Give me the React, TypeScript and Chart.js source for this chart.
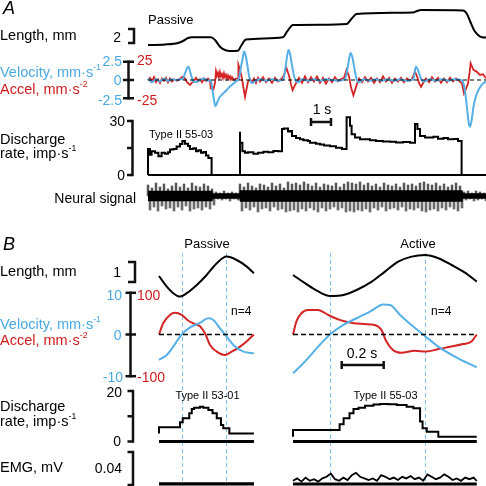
import React, { useEffect, useRef } from 'react';
import { Chart, registerables } from 'chart.js';

Chart.register(...registerables);

// ---------------- DATA ----------------
// Panel A (time in s, passive stretch sequence)
const timeEndA = 16.9;
const lengthA: [number, number][] = [
  [0, 0], [0.85, 0.07], [1.5, 0.29], [1.75, 0.57], [2.0, 1.0], [2.2, 1.1], [3.15, 1.1], [3.35, 0.71],
  [3.6, -0.24], [3.85, -0.71], [4.1, -0.86], [4.5, -0.81], [4.68, 0], [4.9, 0.79], [6.75, 1.1], [6.95, 1.9],
  [7.25, 2.86], [8.6, 2.9], [9.93, 3.0], [10.2, 3.81], [10.43, 4.43], [13.25, 4.64], [13.45, 4.86],
  [13.65, 5.0], [15.75, 4.93], [15.95, 4.43], [16.1, 3.43], [16.3, 2.14], [16.5, 1.43], [16.7, 1.1], [16.9, 1.07],
];
const velocityA: [number, number][] = [
  [0, 0.2], [0.2, -0.3], [0.4, 0.1], [0.6, -0.2], [0.8, 0.2], [1.0, -0.1], [1.2, 0.1], [1.4, 0.0], [1.6, 0.1],
  [1.72, 0.1], [1.85, 0.9], [1.95, 1.6], [2.02, 1.8], [2.1, 1.2], [2.2, 0.3], [2.3, -0.3], [2.45, -0.2], [2.6, 0.0],
  [2.8, 0.2], [3.0, -0.1], [3.13, 0.0], [3.23, -1.5], [3.33, -3.2], [3.38, -3.6], [3.47, -3.0], [3.6, -2.3],
  [3.85, -1.6], [4.1, -0.9], [4.35, -0.3], [4.5, 0.0], [4.55, 0.2], [4.65, 1.8], [4.75, 3.2], [4.8, 3.9], [4.88, 3.4],
  [4.97, 2.0], [5.05, 0.6], [5.1, 0.0], [5.2, -0.4], [5.35, -0.2], [5.6, 0.1], [5.9, -0.1], [6.2, 0.1], [6.5, -0.1],
  [6.77, 0.1], [6.87, 1.6], [6.95, 3.2], [7.02, 4.1], [7.1, 3.6], [7.2, 2.0], [7.3, 0.6], [7.38, -0.1], [7.5, -0.3],
  [7.7, 0.1], [8.0, -0.1], [8.3, 0.1], [8.6, -0.1], [8.9, 0.1], [9.2, 0.0], [9.5, -0.1], [9.85, 0.1], [9.95, 1.2],
  [10.05, 2.8], [10.13, 3.7], [10.22, 3.1], [10.32, 1.6], [10.43, 0.1], [10.55, -0.3], [10.8, 0.1], [11.1, -0.1],
  [11.4, 0.1], [11.7, -0.1], [12.0, 0.1], [12.3, -0.1], [12.6, 0.1], [12.9, -0.1], [13.2, 0.0], [13.27, 0.1],
  [13.34, 1.2], [13.4, 1.8], [13.48, 1.5], [13.58, 0.7], [13.68, 0.0], [13.8, -0.2], [14.1, 0.1], [14.4, -0.1],
  [14.7, 0.1], [15.0, -0.1], [15.3, 0.1], [15.65, 0.0], [15.75, -0.3], [15.85, -1.5], [15.95, -3.8], [16.03, -5.8],
  [16.1, -6.4], [16.18, -5.5], [16.28, -3.6], [16.4, -2.2], [16.52, -1.4], [16.7, -0.6], [16.9, -0.2],
];
const accelA: [number, number][] = [
  [0, 0], [0.1, 3], [0.2, -2], [0.3, 4], [0.4, -3], [0.5, 1], [0.6, -4], [0.7, 2], [0.8, -1], [0.9, 3], [1.0, -3],
  [1.1, 2], [1.2, -2], [1.3, 1], [1.45, -1], [1.6, 2], [1.75, 4.5], [1.85, 2], [1.95, -3], [2.1, -6.8], [2.2, -3.7],
  [2.3, -1], [2.4, 3], [2.5, -2], [2.6, 1], [2.7, -3], [2.8, 2], [2.9, -1], [3.0, 2], [3.1, -1], [3.14, -11.5],
  [3.27, -13], [3.35, -4], [3.4, 12], [3.45, 6], [3.5, 10], [3.55, 4], [3.6, 11], [3.65, 5], [3.7, 8], [3.75, 3],
  [3.8, 9], [3.85, 4], [3.9, 7], [3.95, 2], [4.0, 6], [4.05, 2], [4.1, 5], [4.15, 1], [4.2, 4], [4.3, 0], [4.4, 2],
  [4.5, 2], [4.52, 20.8], [4.6, 14], [4.7, 2], [4.78, -12], [4.85, -23], [4.93, -12], [5.0, -2.3], [5.1, 1],
  [5.2, -3], [5.3, 2], [5.4, -4], [5.5, 3], [5.6, -2], [5.75, 4], [5.9, -3], [6.05, 2], [6.2, -4], [6.35, 3],
  [6.5, -2], [6.65, 1], [6.75, 4], [6.93, 16], [7.05, 6], [7.15, -6], [7.23, -13.9], [7.35, -7], [7.45, -2],
  [7.55, 3], [7.7, -4], [7.85, 5], [8.0, -3], [8.15, 4], [8.3, -2], [8.45, 5], [8.6, -4], [8.75, 3], [8.9, -5],
  [9.05, 2], [9.2, -3], [9.35, 4], [9.5, -2], [9.65, 1], [9.8, 3], [9.93, 13.9], [10.05, 5], [10.15, -10],
  [10.27, -20.8], [10.43, -7], [10.55, 2], [10.7, -3], [10.85, 4], [11.0, -2], [11.15, 3], [11.3, -4], [11.45, 2],
  [11.6, -3], [11.75, 5], [11.9, -2], [12.05, 3], [12.2, -4], [12.35, 2], [12.5, -2], [12.65, 3], [12.8, -3],
  [12.95, 2], [13.1, -1], [13.2, 1], [13.35, 11.5], [13.45, 5], [13.55, -4], [13.65, -9.3], [13.78, -3], [13.9, 2],
  [14.05, -3], [14.2, 4], [14.35, -2], [14.5, 3], [14.65, -4], [14.8, 2], [14.95, -3], [15.1, 3], [15.25, -2],
  [15.4, 2], [15.55, -1], [15.7, -5], [15.8, -18.5], [15.9, -12], [16.0, -5], [16.08, 10], [16.13, 23],
  [16.27, 13.9], [16.43, 11.5], [16.6, 7], [16.75, 8], [16.9, 2.3],
];
const dischargeA: [number, number][] = [
  [0, 0], [0, 13.2], [0.1, 14.5], [0.18, 11.3], [0.35, 13.2], [0.52, 12.3], [0.68, 10.4], [0.85, 12.3], [1.0, 11.8],
  [1.1, 12.6], [1.27, 14.2], [1.43, 14.5], [1.6, 15.8], [1.72, 17.2], [1.85, 18.9], [2.0, 17.4], [2.1, 16.1],
  [2.27, 14.5], [2.4, 14.9], [2.52, 13.2], [2.65, 13.7], [2.77, 12.3], [2.9, 12.8], [3.02, 10.8], [3.18, 9.4],
  [3.24, 0], [4.6, 0], [4.6, 24.0], [4.72, 17.9], [4.85, 13.2], [5.0, 12.3], [5.27, 12.6], [5.5, 11.8], [5.77, 12.3],
  [6.0, 12.9], [6.27, 12.6], [6.5, 13.4], [6.7, 13.2], [6.8, 25.5], [7.0, 25.9], [7.1, 24.1], [7.2, 24.5],
  [7.4, 21.7], [7.6, 20.5], [7.77, 19.8], [8.0, 19.3], [8.1, 18.9], [8.4, 17.9], [8.6, 17.4], [8.8, 17.0],
  [9.1, 16.4], [9.4, 16.0], [9.7, 15.1], [9.93, 14.5], [10.1, 32.1], [10.18, 27.3], [10.35, 22.6], [10.6, 20.8],
  [11.1, 19.8], [11.4, 19.3], [11.75, 18.9], [12.1, 18.6], [12.4, 18.5], [12.75, 18.0], [13.1, 18.3],
  [13.35, 17.9], [13.47, 28.3], [13.6, 25.5], [13.85, 21.7], [14.27, 20.8], [14.5, 21.2], [14.77, 20.2],
  [15.0, 20.6], [15.27, 19.8], [15.5, 20.0], [15.68, 18.9], [15.8, 0], [16.9, 0],
];
// Neural signal: spike amplitudes per 0.2 s bin (a.u.)
const neuralBinSeconds = 0.2;
const neuralUp: number[] = [
  11, 8, 13, 9, 12, 7, 10, 13, 9, 12, 8, 13, 10, 9, 12, 10, 7,
  4, 3, 5, 3, 4, 3,
  12, 9, 13, 10, 8, 12, 11, 9, 13, 10, 12, 8, 14, 12, 13, 11, 14, 12, 10, 13, 9, 12, 11, 10, 13, 9, 12, 14, 13, 12,
  14, 11, 13, 10, 12, 9, 13, 11, 10, 12, 9, 13, 11, 12, 10, 13, 14, 12, 11, 13, 10, 12, 9, 11, 13, 10,
  4, 5, 3, 5, 4, 3,
];
const neuralDown: number[] = [
  14, 11, 15, 10, 13, 12, 15, 11, 14, 10, 15, 13, 12, 14, 11, 13, 9,
  3, 4, 3, 5, 3, 4,
  15, 12, 14, 11, 16, 13, 12, 15, 11, 14, 13, 16, 15, 14, 16, 13, 15, 12, 14, 16, 12, 15, 13, 11, 14, 12, 16, 15,
  16, 14, 15, 13, 16, 12, 14, 11, 15, 13, 12, 14, 11, 15, 13, 14, 12, 15, 16, 14, 13, 15, 12, 14, 11, 13, 15, 12,
  4, 3, 5, 4, 3, 5,
];
const neuralBand: [number, number][] = [
  [0, 5], [3.22, 5], [3.25, 2.5], [4.58, 2.5], [4.6, 5.5], [15.72, 5.5], [15.75, 2.5], [16.9, 2.5],
];

// Panel B, passive (left) and active (right); time in s
const timeEndBL = 0.452;
const timeEndBR = 0.875;
const lengthBL: [number, number][] = [
  [0, 1.0], [0.037, 0.47], [0.068, 0.14], [0.1, -0.03], [0.132, 0.14], [0.18, 0.55], [0.227, 1.05],
  [0.275, 1.64], [0.322, 1.97], [0.37, 1.8], [0.418, 1.47], [0.452, 1.14],
];
const lengthBR: [number, number][] = [
  [0, 1.05], [0.057, 0.64], [0.113, 0.27], [0.176, 0.0], [0.24, 0.05], [0.303, 0.3], [0.375, 0.72], [0.438, 1.22],
  [0.501, 1.72], [0.565, 1.97], [0.629, 2.05], [0.692, 1.89], [0.756, 1.55], [0.819, 1.17], [0.875, 0.72],
];
const velocityBL: [number, number][] = [
  [0, -6.1], [0.037, -4.9], [0.068, -2.9], [0.108, 0], [0.148, 1.7], [0.195, 2.8], [0.235, 3.9], [0.259, 3.5],
  [0.29, 1.5], [0.322, -0.5], [0.362, -2.9], [0.402, -4.1], [0.452, -4.5],
];
const accelBL: [number, number][] = [
  [0, 0], [0.02, 27], [0.052, 47], [0.076, 52], [0.108, 47], [0.14, 33], [0.171, 25], [0.195, 20], [0.219, 3],
  [0.243, -25], [0.275, -41], [0.314, -49], [0.346, -41], [0.386, -29], [0.425, -13], [0.452, 0],
];
const velocityBR: [number, number][] = [
  [0, -9.3], [0.057, -6.5], [0.12, -2.9], [0.176, 0], [0.24, 2.3], [0.303, 3.9], [0.367, 5.5], [0.43, 7.2],
  [0.462, 7.1], [0.51, 4.7], [0.573, 1.9], [0.629, -0.4], [0.692, -2.9], [0.771, -5.3], [0.875, -7.9],
];
const accelBR: [number, number][] = [
  [0, 0], [0.016, 31], [0.04, 51], [0.071, 59], [0.119, 59], [0.167, 47], [0.222, 35], [0.278, 28], [0.341, 25],
  [0.389, 23], [0.421, 11], [0.445, -17], [0.476, -37], [0.516, -44], [0.579, -39], [0.635, -41], [0.692, -35],
  [0.754, -29], [0.81, -23], [0.85, -17], [0.875, 0],
];
const dischargeBL: [number, number][] = [
  [0, 3.2], [0.1, 5.6], [0.113, 7.6], [0.144, 9.2], [0.156, 11.2], [0.167, 12.9], [0.195, 13.4], [0.211, 13.8],
  [0.235, 13.4], [0.255, 12.5], [0.275, 11.2], [0.295, 9.2], [0.306, 6.5], [0.335, 5.2], [0.354, 3.2], [0.452, 3.2],
];
const dischargeBR: [number, number][] = [
  [0, 1.9], [0.222, 4.6], [0.241, 6.8], [0.269, 9.2], [0.288, 11.2], [0.312, 12.9], [0.343, 13.4], [0.383, 14.2],
  [0.414, 14.7], [0.454, 14.9], [0.494, 14.8], [0.541, 14.5], [0.573, 13.8], [0.605, 13.2], [0.617, 7.9],
  [0.637, 5.2], [0.692, 3.9], [0.716, 1.9], [0.875, 1.9],
];
const emgBL: [number, number][] = [[0, 0.0005], [0.452, 0.0005]];
const emgBR: [number, number][] = [
  [0, 0.004], [0.02, 0.007], [0.04, 0.003], [0.06, 0.008], [0.08, 0.004], [0.1, 0.006], [0.12, 0.003],
  [0.14, 0.007], [0.16, 0.009], [0.18, 0.013], [0.2, 0.006], [0.22, 0.004], [0.24, 0.008], [0.26, 0.005],
  [0.28, 0.011], [0.3, 0.014], [0.32, 0.009], [0.34, 0.007], [0.36, 0.005], [0.38, 0.007], [0.4, 0.004],
  [0.42, 0.011], [0.44, 0.009], [0.46, 0.006], [0.48, 0.008], [0.5, 0.005], [0.52, 0.009], [0.54, 0.007],
  [0.56, 0.01], [0.58, 0.006], [0.6, 0.008], [0.62, 0.004], [0.64, 0.012], [0.66, 0.009], [0.68, 0.006],
  [0.7, 0.008], [0.72, 0.012], [0.74, 0.009], [0.76, 0.005], [0.78, 0.007], [0.8, 0.004], [0.82, 0.008],
  [0.84, 0.006], [0.86, 0.008], [0.875, 0.004],
];
const markersBL = [0.108, 0.32];
const markersBR = [0.176, 0.629];

// Scale-bar values
const lengthBarA = 2;
const velTicksA = [2.5, 0, -2.5];
const accTicksA = [25, -25];
const rateTicksA = [30, 15, 0];
const timeBarA = 1;
const lengthBarB = 1;
const velTicksB = [10, 0, -10];
const accTicksB = [100, -100];
const rateTicksB = [20, 10, 0];
const emgBarB = 0.04;
const timeBarB = 0.2;

// ---------------- LAYOUT / STYLE ----------------
const W = 486;
const H = 486;
const BLUE = '#55b0e8';
const RED = '#d42424';
const BLUE_TXT = '#4aa9e3';
const RED_TXT = '#d01c1c';

const xRange = (zeroPx: number, pxPerUnit: number) => ({ min: -zeroPx / pxPerUnit, max: (W - zeroPx) / pxPerUnit });
const yRange = (zeroPx: number, pxPerUnit: number) => ({ min: -(H - zeroPx) / pxPerUnit, max: zeroPx / pxPerUnit });

const pts = (a: [number, number][]) => a.map(([x, y]) => ({ x, y }));

const line = (data: any[], xAxisID: string, yAxisID: string, color: string, width: number, extra: any = {}) => ({
  type: 'line',
  data,
  xAxisID,
  yAxisID,
  borderColor: color,
  backgroundColor: color,
  borderWidth: width,
  pointRadius: 0,
  fill: false,
  tension: 0,
  ...extra,
});

const decor = {
  id: 'decor',
  beforeDatasetsDraw(chart: any) {
    const ctx = chart.ctx;
    ctx.save();
    ctx.strokeStyle = '#7fc2ec';
    ctx.lineWidth = 1;
    ctx.setLineDash([4, 3]);
    const draw = (scale: any, ts: number[]) =>
      ts.forEach((t) => {
        const x = Math.round(scale.getPixelForValue(t)) + 0.5;
        ctx.beginPath();
        ctx.moveTo(x, 253);
        ctx.lineTo(x, H);
        ctx.stroke();
      });
    draw(chart.scales.xBL, markersBL);
    draw(chart.scales.xBR, markersBR);
    ctx.restore();
  },
  afterDatasetsDraw(chart: any) {
    const ctx = chart.ctx;
    const s = chart.scales;
    ctx.save();
    ctx.strokeStyle = '#111';
    ctx.lineWidth = 2.5;
    ctx.lineCap = 'butt';
    ctx.lineJoin = 'miter';
    ctx.setLineDash([]);
    const seg = (x1: number, y1: number, x2: number, y2: number) => {
      ctx.beginPath();
      ctx.moveTo(x1, y1);
      ctx.lineTo(x2, y2);
      ctx.stroke();
    };
    const bracket = (x: number, top: number, bot: number, arm: number) => {
      ctx.beginPath();
      ctx.moveTo(x - arm, top);
      ctx.lineTo(x, top);
      ctx.lineTo(x, bot);
      ctx.lineTo(x - arm, bot);
      ctx.stroke();
    };
    const axis = (x: number, scale: any, ticks: number[], left: number, right: number) => {
      const ys = ticks.map((v) => scale.getPixelForValue(v));
      seg(x, Math.min(...ys) - 1.2, x, Math.max(...ys) + 1.2);
      ys.forEach((y) => seg(x - left, y, x + right, y));
    };
    const timeBar = (scale: any, startPx: number, span: number, y: number) => {
      const t0 = scale.getValueForPixel(startPx);
      const x2 = scale.getPixelForValue(t0 + span);
      seg(startPx, y, x2, y);
      seg(startPx, y - 4, startPx, y + 4);
      seg(x2, y - 4, x2, y + 4);
    };
    // Panel A
    {
      const sc = s.yLenA;
      const bot = 43;
      const top = bot - (sc.getPixelForValue(0) - sc.getPixelForValue(lengthBarA));
      bracket(134, top, bot, 6);
    }
    axis(128.5, s.yVelA, velTicksA, 5.5, 5.5);
    axis(132.5, s.yRateA, rateTicksA, 5.5, 0);
    timeBar(s.xA, 311, timeBarA, 122);
    // Panel B
    {
      const sc = s.yLenB;
      const bot = 282;
      const top = bot - (sc.getPixelForValue(0) - sc.getPixelForValue(lengthBarB));
      bracket(135, top, bot, 7);
    }
    axis(130.5, s.yVelB, velTicksB, 5, 5.5);
    axis(133, s.yRateB, rateTicksB, 5.5, 0);
    bracket(133, s.yEmgB.getPixelForValue(emgBarB), s.yEmgB.getPixelForValue(0) + 1, 5.5);
    timeBar(s.xBR, 341.7, timeBarB, 365);
    ctx.restore();
  },
};

type Lbl = {
  text: string;
  sup?: string;
  x: number;
  y: number;
  align?: 'left' | 'right' | 'center';
  size?: number;
  color?: string;
  italic?: boolean;
};

const fmt = (v: number) => String(v);

const labels: Lbl[] = [
  { text: 'A', x: 3, y: 8, size: 18, italic: true },
  { text: 'Passive', x: 148, y: 18.5, size: 13 },
  { text: 'Length, mm', x: 0, y: 35 },
  { text: fmt(lengthBarA), x: 121, y: 36.5, align: 'right', size: 14 },
  { text: 'Velocity, mm·s', sup: '-1', x: 0, y: 72, color: BLUE_TXT },
  { text: 'Accel, mm·s', sup: '-2', x: 0, y: 88.5, color: RED_TXT },
  { text: fmt(velTicksA[0]), x: 122, y: 61, align: 'right', size: 14, color: BLUE_TXT },
  { text: fmt(velTicksA[1]), x: 121.5, y: 80, align: 'right', size: 14, color: BLUE_TXT },
  { text: fmt(velTicksA[2]), x: 122, y: 99.5, align: 'right', size: 14, color: BLUE_TXT },
  { text: fmt(accTicksA[0]), x: 137, y: 60, size: 14, color: RED_TXT },
  { text: fmt(accTicksA[1]), x: 137, y: 100, size: 14, color: RED_TXT },
  { text: 'Discharge', x: 0, y: 139 },
  { text: 'rate, imp·s', sup: '-1', x: 0, y: 153 },
  { text: fmt(rateTicksA[0]), x: 125, y: 121, align: 'right', size: 14 },
  { text: fmt(rateTicksA[2]), x: 125, y: 175, align: 'right', size: 14 },
  { text: 'Type II 55-03', x: 149, y: 134, size: 11 },
  { text: `${timeBarA} s`, x: 322, y: 109, align: 'center', size: 14 },
  { text: 'Neural signal', x: 136, y: 198, align: 'right', size: 14 },

  { text: 'B', x: 3, y: 244, size: 18, italic: true },
  { text: 'Passive', x: 207, y: 242.5, align: 'center', size: 13 },
  { text: 'Active', x: 418, y: 242.5, align: 'center', size: 13 },
  { text: 'Length, mm', x: 0, y: 271 },
  { text: fmt(lengthBarB), x: 121, y: 272, align: 'right', size: 14 },
  { text: 'Velocity, mm·s', sup: '-1', x: 0, y: 323.5, color: BLUE_TXT },
  { text: 'Accel, mm·s', sup: '-2', x: 0, y: 340, color: RED_TXT },
  { text: fmt(velTicksB[0]), x: 122, y: 295, align: 'right', size: 14, color: BLUE_TXT },
  { text: fmt(velTicksB[1]), x: 121.5, y: 335, align: 'right', size: 14, color: BLUE_TXT },
  { text: fmt(velTicksB[2]), x: 123, y: 376.5, align: 'right', size: 14, color: BLUE_TXT },
  { text: fmt(accTicksB[0]), x: 137, y: 295, size: 14, color: RED_TXT },
  { text: fmt(accTicksB[1]), x: 137, y: 376.5, size: 14, color: RED_TXT },
  { text: 'n=4', x: 231, y: 311, size: 12 },
  { text: 'n=4', x: 431, y: 311, size: 12 },
  { text: `${timeBarB} s`, x: 362, y: 352.5, align: 'center', size: 14 },
  { text: 'Discharge', x: 0, y: 405.5 },
  { text: 'rate, imp·s', sup: '-1', x: 0, y: 421 },
  { text: fmt(rateTicksB[0]), x: 122, y: 392, align: 'right', size: 14 },
  { text: fmt(rateTicksB[2]), x: 121, y: 441, align: 'right', size: 14 },
  { text: 'Type II 53-01', x: 207.5, y: 395, align: 'center', size: 11 },
  { text: 'Type II 55-03', x: 385.5, y: 395, align: 'center', size: 11 },
  { text: 'EMG, mV', x: 0, y: 467 },
  { text: fmt(emgBarB), x: 122, y: 467.5, align: 'right', size: 14 },
];

function Label({ l }: { l: Lbl }) {
  const align = l.align || 'left';
  const style: React.CSSProperties = {
    position: 'absolute',
    top: l.y,
    fontSize: l.size || 14.5,
    lineHeight: 1,
    whiteSpace: 'nowrap',
    color: l.color || '#000',
    fontStyle: l.italic ? 'italic' : 'normal',
    transform: align === 'center' ? 'translate(-50%, -50%)' : 'translateY(-50%)',
  };
  if (align === 'right') style.right = W - l.x;
  else style.left = l.x;
  return (
    <div style={style}>
      {l.text}
      {l.sup ? (
        <span style={{ fontSize: '0.6em', position: 'relative', top: '-0.75em' }}>{l.sup}</span>
      ) : null}
    </div>
  );
}

export default function App() {
  const ref = useRef<HTMLCanvasElement | null>(null);

  useEffect(() => {
    if (!ref.current) return;
    const neuralUpBars = neuralUp.map((v, i) => ({ x: i * neuralBinSeconds, y: [0, v] }));
    const neuralDownBars = neuralDown.map((v, i) => ({ x: i * neuralBinSeconds + neuralBinSeconds / 2, y: [-v, 0] }));
    const bandTop = neuralBand.map(([x, v]) => ({ x, y: v }));
    const bandBot = neuralBand.map(([x, v]) => ({ x, y: -v }));

    const datasets: any[] = [
      // Panel A
      line(pts(lengthA), 'xA', 'yLenA', '#000', 2, { cubicInterpolationMode: 'monotone' }),
      line([{ x: 0, y: 0 }, { x: timeEndA, y: 0 }], 'xA', 'yVelA', '#000', 1.2, { borderDash: [4, 3] }),
      line(pts(velocityA), 'xA', 'yVelA', BLUE, 2, { cubicInterpolationMode: 'monotone' }),
      line(pts(accelA), 'xA', 'yAccA', RED, 1.8),
      line(pts(dischargeA), 'xA', 'yRateA', '#000', 2, { stepped: 'after' }),
      line([{ x: 0, y: 0 }, { x: timeEndA, y: 0 }], 'xA', 'yRateA', '#000', 2.2),
      line(bandTop, 'xA', 'yNeur', '#000', 0.5, { fill: '+1', backgroundColor: '#000' }),
      line(bandBot, 'xA', 'yNeur', '#000', 0.5),
      {
        type: 'bar', data: neuralUpBars, xAxisID: 'xA', yAxisID: 'yNeur', backgroundColor: '#555555',
        barThickness: 1.8, grouped: false, borderWidth: 0,
      },
      {
        type: 'bar', data: neuralDownBars, xAxisID: 'xA', yAxisID: 'yNeur', backgroundColor: '#6a6a6a',
        barThickness: 2, grouped: false, borderWidth: 0,
      },
      // Panel B left (passive)
      line(pts(lengthBL), 'xBL', 'yLenB', '#000', 2, { cubicInterpolationMode: 'monotone' }),
      line([{ x: 0, y: 0 }, { x: timeEndBL, y: 0 }], 'xBL', 'yVelB', '#000', 1.4, { borderDash: [5, 3] }),
      line(pts(velocityBL), 'xBL', 'yVelB', BLUE, 2, { cubicInterpolationMode: 'monotone' }),
      line(pts(accelBL), 'xBL', 'yAccB', RED, 2, { cubicInterpolationMode: 'monotone' }),
      line(pts(dischargeBL), 'xBL', 'yRateB', '#000', 2, { stepped: 'after' }),
      line([{ x: 0, y: 0 }, { x: timeEndBL, y: 0 }], 'xBL', 'yRateB', '#000', 3),
      line(pts(emgBL), 'xBL', 'yEmgB', '#000', 2),
      line([{ x: 0, y: 0 }, { x: timeEndBL, y: 0 }], 'xBL', 'yEmgB', '#000', 3),
      // Panel B right (active)
      line(pts(lengthBR), 'xBR', 'yLenB', '#000', 2, { cubicInterpolationMode: 'monotone' }),
      line([{ x: 0, y: 0 }, { x: timeEndBR, y: 0 }], 'xBR', 'yVelB', '#000', 1.4, { borderDash: [5, 3] }),
      line(pts(velocityBR), 'xBR', 'yVelB', BLUE, 2, { cubicInterpolationMode: 'monotone' }),
      line(pts(accelBR), 'xBR', 'yAccB', RED, 2, { cubicInterpolationMode: 'monotone' }),
      line(pts(dischargeBR), 'xBR', 'yRateB', '#000', 2, { stepped: 'after' }),
      line([{ x: 0, y: 0 }, { x: timeEndBR, y: 0 }], 'xBR', 'yRateB', '#000', 3),
      line(pts(emgBR), 'xBR', 'yEmgB', '#000', 1.8),
      line([{ x: 0, y: 0 }, { x: timeEndBR, y: 0 }], 'xBR', 'yEmgB', '#000', 3),
    ];

    const hx = (r: { min: number; max: number }) => ({ type: 'linear', axis: 'x', display: false, offset: false, ...r });
    const hy = (r: { min: number; max: number }) => ({ type: 'linear', axis: 'y', display: false, ...r });

    const chart = new Chart(ref.current, {
      type: 'line',
      data: { datasets },
      plugins: [decor],
      options: {
        responsive: false,
        maintainAspectRatio: false,
        animation: false,
        events: [],
        layout: { padding: 0 },
        plugins: { legend: { display: false }, tooltip: { enabled: false }, title: { display: false } },
        scales: {
          xA: hx(xRange(148, 20)),
          xBL: hx(xRange(159, 210)),
          xBR: hx(xRange(293, 210)),
          yLenA: hy(yRange(45, 7)),
          yVelA: hy(yRange(80, 7.3)),
          yAccA: hy(yRange(80, 0.73)),
          yRateA: hy(yRange(175, 1.8)),
          yNeur: hy(yRange(196, 1)),
          yLenB: hy(yRange(296, 20)),
          yVelB: hy(yRange(334.5, 4.17)),
          yAccB: hy(yRange(334.5, 0.417)),
          yRateB: hy(yRange(441.5, 2.525)),
          yEmgB: hy(yRange(484, 800)),
        },
      } as any,
    } as any);
    return () => chart.destroy();
  }, []);

  return (
    <div
      style={{
        position: 'fixed',
        left: 0,
        top: 0,
        width: W,
        height: H,
        background: '#fff',
        overflow: 'hidden',
        fontFamily: '"Liberation Sans", Arial, Helvetica, sans-serif',
      }}
    >
      <canvas ref={ref} width={W} height={H} style={{ position: 'absolute', left: 0, top: 0, width: W, height: H }} />
      {labels.map((l, i) => (
        <Label key={i} l={l} />
      ))}
    </div>
  );
}
